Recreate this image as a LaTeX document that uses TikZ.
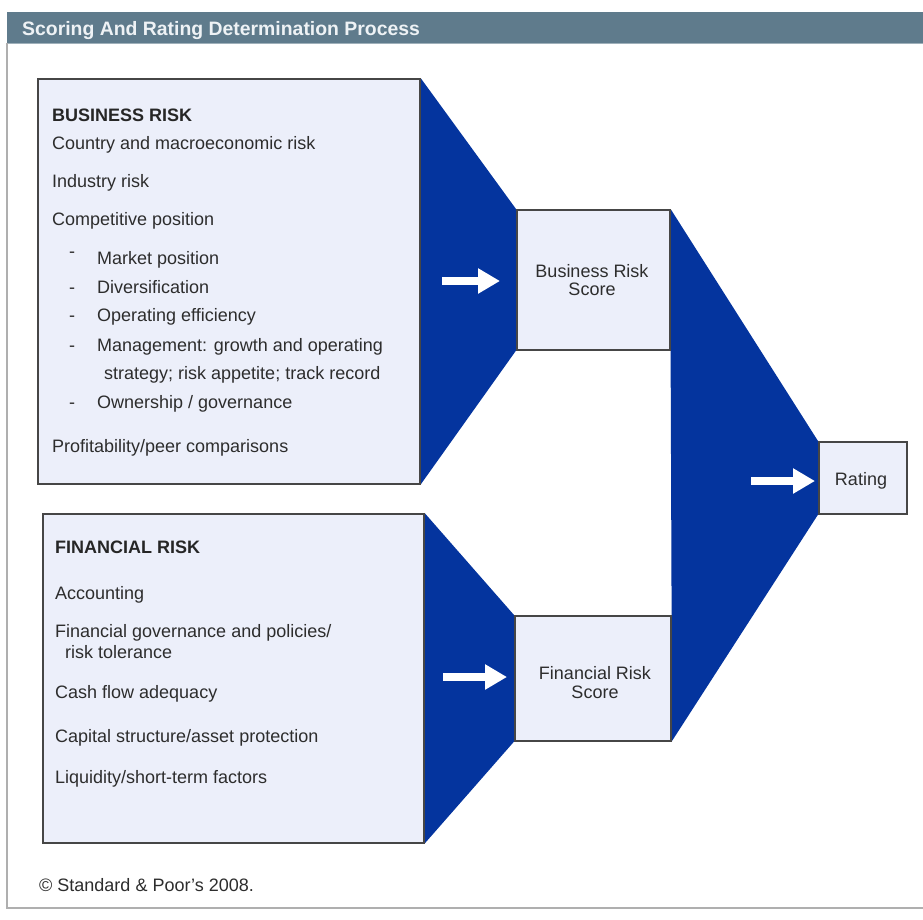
\documentclass[tikz,border=0pt]{standalone}
\usepackage{fontspec}
\setmainfont{Liberation Sans}
\usetikzlibrary{arrows.meta}
\definecolor{funnelblue}{RGB}{4,52,158}
\definecolor{boxfill}{RGB}{236,239,250}
\definecolor{boxline}{RGB}{70,70,70}
\definecolor{headbar}{RGB}{95,123,140}
\definecolor{headtext}{RGB}{238,242,245}
\definecolor{txt}{RGB}{45,45,45}
\definecolor{framegray}{RGB}{175,175,175}
\begin{document}
\begin{tikzpicture}[x=1pt,y=-1pt,
  box/.style={draw=boxline, line width=1.6pt, fill=boxfill, rectangle, inner sep=0pt, anchor=north west},
  item/.style={anchor=base west, inner sep=0pt, text=txt, font=\fontsize{18}{19}\selectfont},
  headline/.style={item, text=black!85, font=\fontsize{18}{19}\selectfont\bfseries},
  scoretext/.style={anchor=base, inner sep=0pt, text=txt, font=\fontsize{18}{19}\selectfont},
  funnel/.style={fill=funnelblue, draw=funnelblue, line width=0.4pt, line join=miter},
  blockarrow/.style={draw=white, line width=8pt, -{Triangle[length=22pt,width=24pt]}}
]
\useasboundingbox (0,0) rectangle (923,919);
\fill[white] (0,0) rectangle (923,919);

% header bar and frame
\fill[headbar] (7,12) rectangle (923,43);
\draw[headbar!60!white, line width=1pt] (7,43) -- (923,43);
\node[anchor=base west, inner sep=0pt, text=headtext, font=\fontsize{19.4}{20}\selectfont\bfseries] (title) at (22,35) {Scoring And Rating Determination Process};
\draw[framegray, line width=1.2pt] (7,43) -- (7,908) -- (923,908);

% box positions (nodes)
\path (37,78) node[box, minimum width=382pt, minimum height=405pt] (bus) {};
\path (516,209) node[box, minimum width=153pt, minimum height=140pt] (bscore) {};
\path (42,513) node[box, minimum width=381pt, minimum height=329pt] (fin) {};
\path (514,615) node[box, minimum width=156pt, minimum height=125pt] (fscore) {};
\path (818,441) node[box, minimum width=88pt, minimum height=72pt] (rating) {};

% funnels
\fill[funnelblue] (bus.north east) -- (bscore.north west) -- (bscore.south west) -- (bus.south east) -- cycle;
\fill[funnelblue] (fin.north east) -- (fscore.north west) -- (fscore.south west) -- (fin.south east) -- cycle;
\fill[funnelblue] (bscore.north east) -- (rating.north west) -- (rating.south west) -- (fscore.south east) -- (fscore.north east) -- (bscore.south east) -- cycle;

% redraw boxes on top
\path (37,78) node[box, minimum width=382pt, minimum height=405pt] {};
\path (516,209) node[box, minimum width=153pt, minimum height=140pt] {};
\path (42,513) node[box, minimum width=381pt, minimum height=329pt] {};
\path (514,615) node[box, minimum width=156pt, minimum height=125pt] {};
\path (818,441) node[box, minimum width=88pt, minimum height=72pt] {};

% white arrows
\coordinate (a1s) at (442,281); \coordinate (a1e) at (500,281);
\coordinate (a2s) at (443,677); \coordinate (a2e) at (507,677);
\coordinate (a3s) at (751,481); \coordinate (a3e) at (815,481);
\draw[blockarrow] (a1s) -- (a1e);
\draw[blockarrow] (a2s) -- (a2e);
\draw[blockarrow] (a3s) -- (a3e);

% business risk text
\node[headline] (b0) at (52,121) {BUSINESS RISK};
\node[item] (b1) at (52,149) {Country and macroeconomic risk};
\node[item] (b2) at (52,187) {Industry risk};
\node[item] (b3) at (52,225) {Competitive position};
\node[item] (d1) at (69,257) {-};
\node[item] (b4) at (97,264) {Market position};
\node[item] (d2) at (69,293) {-};
\node[item] (b5) at (97,293) {Diversification};
\node[item] (d3) at (69,321) {-};
\node[item] (b6) at (97,321) {Operating efficiency};
\node[item] (d4) at (69,351) {-};
\node[item] (b7) at (97,351) {Management: growth and operating};
\node[item] (b8) at (104,379) {strategy; risk appetite; track record};
\node[item] (d5) at (69,408) {-};
\node[item] (b9) at (97,408) {Ownership / governance};
\node[item] (b10) at (52,452) {Profitability/peer comparisons};

% financial risk text
\node[headline] (f0) at (55,553) {FINANCIAL RISK};
\node[item] (f1) at (55,599) {Accounting};
\node[item] (f2) at (55,637) {Financial governance and policies/};
\node[item] (f3) at (65,658) {risk tolerance};
\node[item] (f4) at (55,698) {Cash flow adequacy};
\node[item] (f5) at (55,742) {Capital structure/asset protection};
\node[item] (f6) at (55,783) {Liquidity/short-term factors};

% score texts
\node[scoretext] (bs1) at (592,277) {Business Risk};
\node[scoretext] (bs2) at (592,295) {Score};
\node[scoretext] (fs1) at (595,679) {Financial Risk};
\node[scoretext] (fs2) at (595,698) {Score};
\node[scoretext] (rt) at (861,485) {Rating};

% footer
\node[item] (foot) at (39,891) {© Standard \& Poor’s 2008.};
\end{tikzpicture}
\end{document}
